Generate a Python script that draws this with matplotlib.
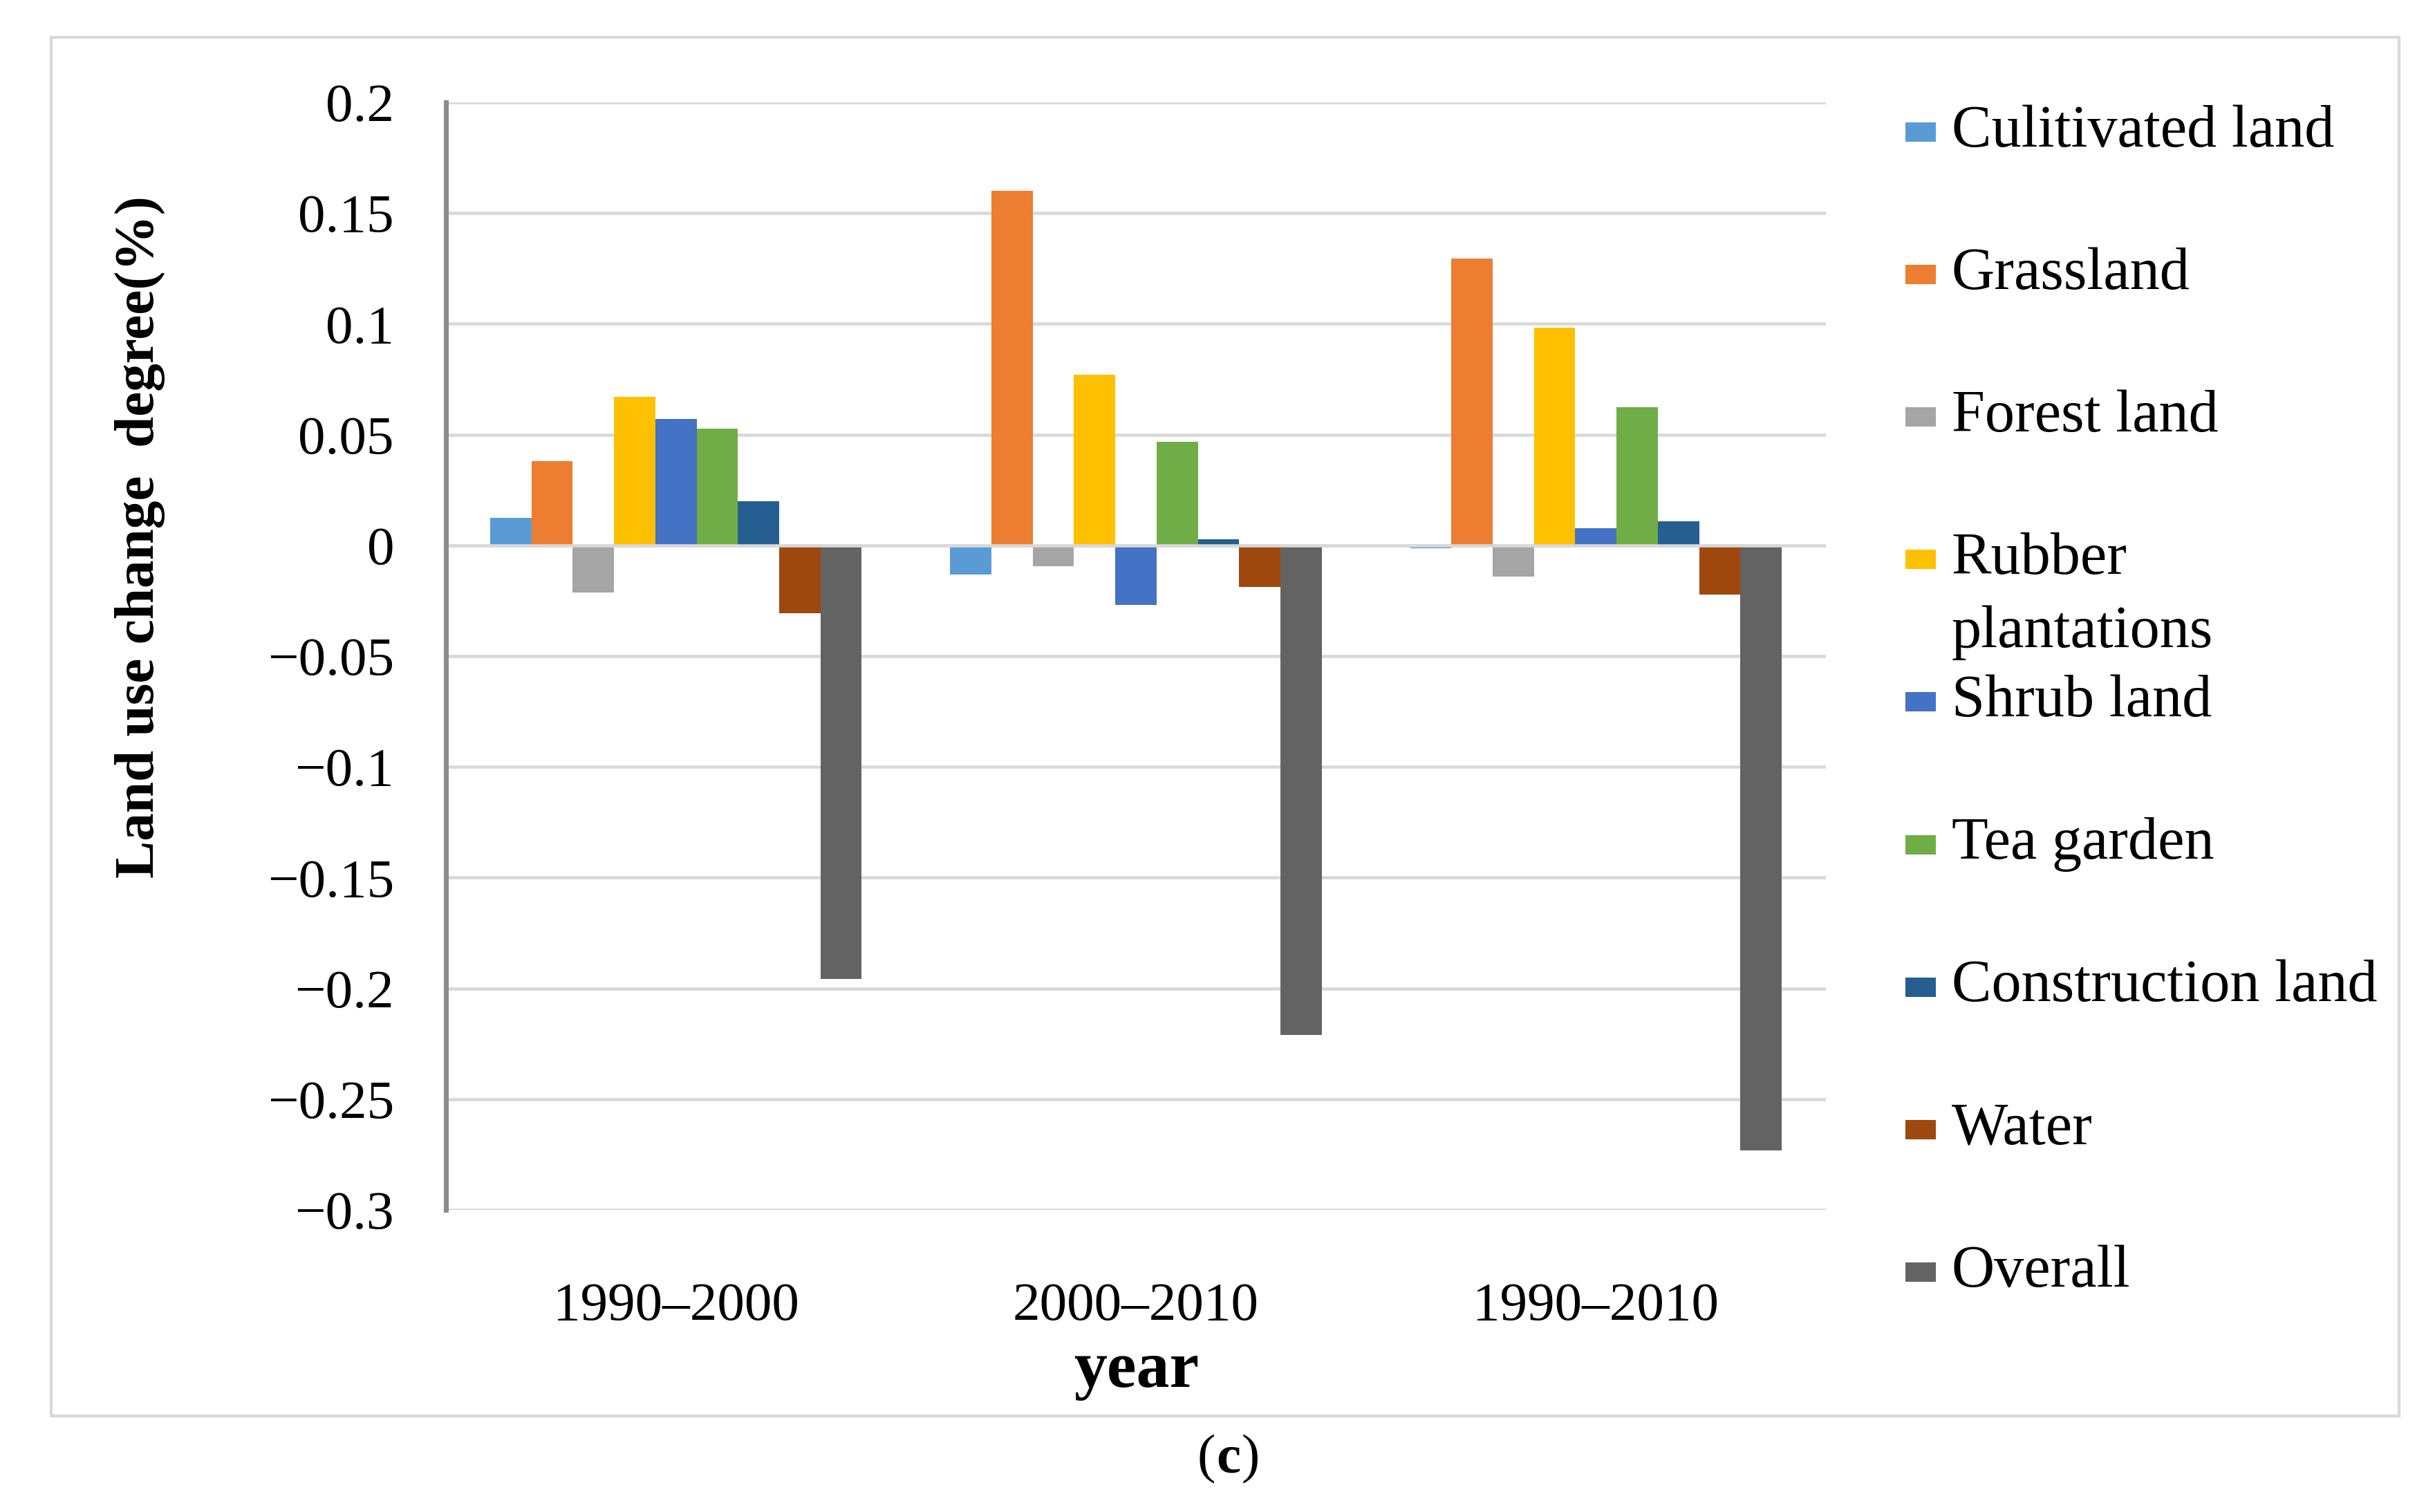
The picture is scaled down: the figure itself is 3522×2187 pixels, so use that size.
import matplotlib
matplotlib.use("Agg")
import matplotlib.pyplot as plt
from matplotlib.patches import Rectangle
import numpy as np

# ---- data ----
periods = ["1990–2000", "2000–2010", "1990–2010"]
series_names = ["Culitivated land", "Grassland", "Forest land", "Rubber\nplantations",
                "Shrub land", "Tea garden", "Construction land", "Water", "Overall"]
cultivated = [0.0123, -0.0131, -0.0012]
grassland = [0.0379, 0.1602, 0.1295]
forest = [-0.0214, -0.0094, -0.0141]
rubber = [0.0669, 0.0770, 0.0984]
shrub = [0.0569, -0.0269, 0.0076]
tea = [0.0526, 0.0469, 0.0624]
construction = [0.0198, 0.0029, 0.0110]
water = [-0.0305, -0.0187, -0.0221]
overall = [-0.1958, -0.2211, -0.2731]
yticks = [0.2, 0.15, 0.1, 0.05, 0, -0.05, -0.1, -0.15, -0.2, -0.25, -0.3]
ytick_labels = ["0.2", "0.15", "0.1", "0.05", "0", "−0.05", "−0.1", "−0.15", "−0.2", "−0.25", "−0.3"]

values = [cultivated, grassland, forest, rubber, shrub, tea, construction, water, overall]
colors = ["#5B9BD5", "#ED7D31", "#A5A5A5", "#FFC000", "#4472C4",
          "#70AD47", "#255E91", "#9E480E", "#636363"]

W, H = 3522, 2187
DPI = 300
plt.rcParams['font.family'] = ['Liberation Serif', 'DejaVu Serif']
fig = plt.figure(figsize=(W / DPI, H / DPI), dpi=DPI)
fig.patch.set_facecolor("white")

# outer border
fig.patches.append(Rectangle((74 / W, 1 - 2048 / H), (3470 - 74) / W, (2048 - 54) / H,
                             transform=fig.transFigure, fill=False,
                             edgecolor="#D9D9D9", linewidth=1.0))

ax = fig.add_axes([645 / W, 1 - 1750 / H, (2641 - 645) / W, (1750 - 148) / H])
x = np.arange(len(periods))
n = len(values)
bw = 0.0897
for i, (vals, c) in enumerate(zip(values, colors)):
    ax.bar(x + (i - (n - 1) / 2) * bw, vals, width=bw, color=c, zorder=3, linewidth=0)

ax.set_xlim(-0.5, len(periods) - 0.5)
ax.set_ylim(-0.3, 0.2)
ax.set_yticks(yticks)
ax.set_yticklabels(ytick_labels, fontsize=19)
ax.yaxis.grid(True, color="#D9D9D9", linewidth=1.1, zorder=0)
ax.axhline(0, color="#D9D9D9", linewidth=1.1, zorder=4)
ax.set_axisbelow(True)
ax.set_xticks(x)
ax.set_xticklabels(periods, fontsize=19)
ax.tick_params(axis='y', length=0, pad=18)
ax.tick_params(axis='x', length=0, pad=25)
for s in ["top", "right", "bottom"]:
    ax.spines[s].set_visible(False)
ax.spines["left"].set_color("#8C8C8C")
ax.spines["left"].set_linewidth(1.7)
ax.spines["left"].set_zorder(5)

# axis titles
fig.text(202 / W, 1 - 777 / H, "Land use change  degree(%)", rotation=90,
         ha="center", va="center", fontsize=19.5, fontweight="bold")
fig.text(1644 / W, 1 - 1983 / H, "year", ha="center", va="center",
         fontsize=23, fontweight="bold")
cx, cy = 1777, 2111
fig.text((cx - 19) / W, 1 - cy / H, "(", ha="right", va="center", fontsize=19)
fig.text(cx / W, 1 - cy / H, "c", ha="center", va="center", fontsize=19, fontweight="bold")
fig.text((cx + 19) / W, 1 - cy / H, ")", ha="left", va="center", fontsize=19)

# legend (drawn manually, Excel style)
entry_y0, entry_dy, line_dy = 191, 206.1, 106
for i, (name, c) in enumerate(zip(series_names, colors)):
    yc = entry_y0 + i * entry_dy
    fig.patches.append(Rectangle((2756 / W, 1 - (yc + 14) / H), 44 / W, 28 / H,
                                 transform=fig.transFigure, facecolor=c, edgecolor="none"))
    for k, line in enumerate(name.split("\n")):
        fig.text(2823 / W, 1 - (yc + k * line_dy) / H, line, ha="left", va="center",
                 fontsize=20.7)

fig.savefig("out.png", dpi=DPI, facecolor="white")
